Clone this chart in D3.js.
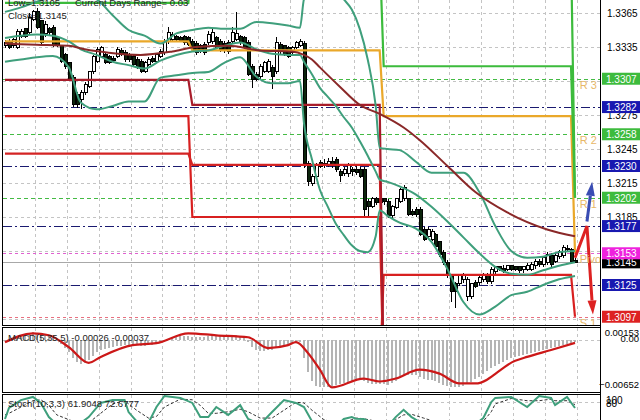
<!DOCTYPE html>
<html><head><meta charset="utf-8">
<script src="https://cdn.jsdelivr.net/npm/d3@7"></script>
<style>body{margin:0;background:#fff;}svg{display:block;font-family:"Liberation Sans",Arial,sans-serif;}</style>
</head><body><svg id="chart" width="640" height="420"></svg>
<script>
// ---------- DATA ----------
const openP=[1.3336,1.3340,1.3336,1.3335,1.3344,1.3351,1.3348,1.3359,1.3366,1.3358,
1.3347,1.3351,1.3352,1.3343,1.3336,1.3328,1.3321,1.3308,1.3293,1.3289,
1.3295,1.3300,1.3313,1.3322,1.3327,1.3328,1.3327,1.3325,1.3327,1.3332,
1.3330,1.3328,1.3327,1.3324,1.3322,1.3313,1.3320,1.3325,1.3322,1.3327,
1.3330,1.3340,1.3342,1.3344,1.3343,1.3344,1.3343,1.3340,1.3338,1.3336,
1.3337,1.3339,1.3340,1.3343,1.3340,1.3338,1.3339,1.3340,1.3342,1.3344,
1.3343,1.3339,1.3318,1.3311,1.3309,1.3313,1.3313,1.3317,1.3313,1.3337,
1.3336,1.3335,1.3330,1.3335,1.3336,1.3338,1.3232,1.3215,1.3221,1.3233,
1.3232,1.3231,1.3234,1.3236,1.3225,1.3223,1.3223,1.3227,1.3227,1.3227,
1.3227,1.3199,1.3194,1.3201,1.3201,1.3201,1.3199,1.3186,1.3193,1.3199,
1.3201,1.3201,1.3190,1.3192,1.3192,1.3174,1.3168,1.3165,1.3170,1.3163,
1.3154,1.3145,1.3133,1.3126,1.3126,1.3130,1.3115,1.3115,1.3127,1.3127,
1.3130,1.3134,1.3128,1.3137,1.3141,1.3140,1.3139,1.3142,1.3141,1.3141,
1.3139,1.3139,1.3139,1.3142,1.3146,1.3143,1.3145,1.3151,1.3146,1.3150,
1.3151,1.3156,1.3156,1.3147];
const highP=[1.3341,1.3342,1.3343,1.3351,1.3351,1.3352,1.3365,1.3368,1.3369,1.3359,
1.3358,1.3353,1.3354,1.3345,1.3337,1.3330,1.3322,1.3310,1.3295,1.3297,
1.3304,1.3314,1.3328,1.3335,1.3336,1.3330,1.3328,1.3327,1.3335,1.3334,
1.3332,1.3330,1.3328,1.3326,1.3324,1.3323,1.3326,1.3327,1.3330,1.3333,
1.3342,1.3353,1.3348,1.3346,1.3345,1.3346,1.3345,1.3342,1.3340,1.3338,
1.3339,1.3349,1.3351,1.3345,1.3342,1.3340,1.3341,1.3353,1.3366,1.3346,
1.3345,1.3341,1.3320,1.3313,1.3320,1.3323,1.3324,1.3319,1.3344,1.3339,
1.3337,1.3336,1.3336,1.3340,1.3342,1.3340,1.3234,1.3223,1.3233,1.3235,
1.3236,1.3237,1.3238,1.3238,1.3227,1.3229,1.3233,1.3229,1.3230,1.3229,
1.3229,1.3201,1.3203,1.3203,1.3203,1.3202,1.3201,1.3196,1.3202,1.3211,
1.3213,1.3202,1.3192,1.3194,1.3194,1.3176,1.3176,1.3174,1.3171,1.3164,
1.3156,1.3147,1.3135,1.3128,1.3135,1.3136,1.3132,1.3127,1.3129,1.3134,
1.3136,1.3136,1.3141,1.3142,1.3142,1.3143,1.3143,1.3143,1.3142,1.3142,
1.3142,1.3144,1.3145,1.3148,1.3148,1.3151,1.3154,1.3153,1.3153,1.3156,
1.3160,1.3160,1.3158,1.3149];
const lowP=[1.3334,1.3333,1.3334,1.3333,1.3343,1.3343,1.3346,1.3358,1.3351,1.3337,
1.3344,1.3345,1.3335,1.3335,1.3321,1.3316,1.3305,1.3282,1.3281,1.3280,
1.3293,1.3299,1.3311,1.3321,1.3325,1.3320,1.3320,1.3321,1.3325,1.3327,
1.3322,1.3322,1.3318,1.3316,1.3312,1.3312,1.3318,1.3321,1.3321,1.3325,
1.3328,1.3338,1.3340,1.3340,1.3339,1.3337,1.3336,1.3331,1.3328,1.3330,
1.3328,1.3337,1.3338,1.3333,1.3331,1.3330,1.3329,1.3338,1.3340,1.3337,
1.3333,1.3309,1.3299,1.3305,1.3307,1.3312,1.3312,1.3298,1.3311,1.3329,
1.3327,1.3325,1.3328,1.3333,1.3335,1.3228,1.3212,1.3212,1.3219,1.3228,
1.3228,1.3229,1.3228,1.3225,1.3216,1.3221,1.3220,1.3221,1.3222,1.3219,
1.3185,1.3185,1.3193,1.3196,1.3196,1.3196,1.3184,1.3184,1.3192,1.3197,
1.3199,1.3186,1.3186,1.3185,1.3168,1.3164,1.3166,1.3164,1.3157,1.3150,
1.3143,1.3131,1.3110,1.3105,1.3124,1.3127,1.3111,1.3113,1.3122,1.3125,
1.3128,1.3126,1.3126,1.3135,1.3137,1.3136,1.3137,1.3137,1.3137,1.3136,
1.3136,1.3137,1.3137,1.3139,1.3141,1.3141,1.3143,1.3141,1.3144,1.3148,
1.3149,1.3155,1.3145,1.3144];
const closeP=[1.3339,1.3335,1.3342,1.3349,1.3349,1.3344,1.3361,1.3366,1.3352,1.3339,
1.3355,1.3348,1.3336,1.3336,1.3322,1.3318,1.3306,1.3284,1.3284,1.3295,
1.3302,1.3313,1.3327,1.3333,1.3335,1.3321,1.3321,1.3323,1.3333,1.3328,
1.3324,1.3324,1.3320,1.3318,1.3313,1.3321,1.3324,1.3322,1.3328,1.3331,
1.3340,1.3348,1.3346,1.3342,1.3341,1.3339,1.3337,1.3333,1.3330,1.3332,
1.3330,1.3346,1.3348,1.3335,1.3333,1.3332,1.3331,1.3348,1.3347,1.3339,
1.3335,1.3311,1.3306,1.3306,1.3318,1.3321,1.3322,1.3309,1.3339,1.3331,
1.3328,1.3327,1.3335,1.3339,1.3340,1.3232,1.3216,1.3221,1.3231,1.3230,
1.3231,1.3234,1.3231,1.3227,1.3222,1.3227,1.3231,1.3225,1.3224,1.3221,
1.3192,1.3194,1.3201,1.3198,1.3198,1.3199,1.3186,1.3194,1.3201,1.3209,
1.3211,1.3187,1.3187,1.3187,1.3170,1.3165,1.3174,1.3172,1.3159,1.3152,
1.3145,1.3133,1.3119,1.3119,1.3133,1.3134,1.3130,1.3126,1.3124,1.3132,
1.3134,1.3128,1.3139,1.3141,1.3139,1.3138,1.3142,1.3139,1.3139,1.3138,
1.3141,1.3142,1.3143,1.3146,1.3143,1.3149,1.3152,1.3143,1.3151,1.3155,
1.3158,1.3157,1.3146,1.3145];

// Bollinger bands & moving average (read at sample bars)
const bbBar=[0,4,8,12,16,19,23,27,31,35,39,43,47,51,55,59,63,67,71,74,75,77,79,81,83,85,87,89,91,93,94,96,99,103,107,111,115,119,123,127,131,135,139,143];
const bbUpper=[1.3366,1.3370,1.3375,1.3379,1.3381,1.3381,1.3377,1.3363,1.3350,1.3345,1.3338,1.3347,1.3350,1.3352,1.3351,1.3351,1.3357,1.3356,1.3354,1.3352,1.3377,1.3386,1.3389,1.3388,1.3385,1.3377,1.3368,1.3351,1.3324,1.3283,1.3246,1.3245,1.3244,1.3234,1.3224,1.3224,1.3224,1.3207,1.3177,1.3155,1.3149,1.3150,1.3154,1.3155];
const bbMid=[1.3343,1.3345,1.3346,1.3345,1.3340,1.3333,1.3328,1.3322,1.3319,1.3316,1.3323,1.3328,1.3331,1.3332,1.3336,1.3339,1.3333,1.3329,1.3328,1.3328,1.3322,1.3311,1.3299,1.3291,1.3283,1.3273,1.3264,1.3252,1.3239,1.3225,1.3218,1.3216,1.3212,1.3205,1.3194,1.3181,1.3167,1.3153,1.3141,1.3135,1.3134,1.3138,1.3142,1.3145];
const bbLower=[1.3322,1.3324,1.3326,1.3327,1.3317,1.3286,1.3280,1.3283,1.3287,1.3287,1.3308,1.3310,1.3312,1.3313,1.3321,1.3326,1.3309,1.3303,1.3303,1.3305,1.3268,1.3236,1.3209,1.3194,1.3179,1.3169,1.3160,1.3155,1.3154,1.3168,1.3191,1.3186,1.3180,1.3175,1.3163,1.3139,1.3110,1.3099,1.3106,1.3116,1.3119,1.3125,1.3130,1.3133];
const maBar=[0,8,16,20,26,34,42,48,56,64,72,75,77,79,84,89,94,100,104,111,118,126,136,143];
const maVal=[1.3338,1.3337,1.3336,1.3333,1.3330,1.3328,1.3331,1.3335,1.3336,1.3332,1.3331,1.3328,1.3324,1.3317,1.3300,1.3284,1.3276,1.3264,1.3253,1.3230,1.3207,1.3189,1.3174,1.3168];

// daily pivot step lines (value per day)
const dayStart=[0,47,95,143];
const pivGreenHi=[1.3374,1.3420,1.3318,1.3202];
const pivGreenTop=[1.3420,1.3420,1.3420,1.3202];
const pivOrange=[1.3340,1.3332,1.3274,1.3153];
const pivDarkRed=[1.3306,1.3284,1.3040,1.3040];
const pivRed1=[1.3274,1.3185,1.3040,1.3040];
const pivRed2=[1.3241,1.3231,1.3040,1.3040];
const pivRed3=[1.3040,1.3040,1.3134,1.3097];

// current levels
const levelPrice=[1.3307,1.3282,1.3258,1.3230,1.3202,1.3177,1.3153,1.3125,1.3097];
const levelKind=["g","b","g","b","g","b","m","b","r"];
const bidPrice=1.3145;
const pivotNames=["R 3","R 2","R 1","Pivot","S 1"];
const pivotNamePrice=[1.3307,1.3258,1.3202,1.3153,1.3097];
const priceTicks=[1.3365,1.3335,1.3305,1.3275,1.3245,1.3215,1.3185,1.3155,1.3125,1.3095];

// arrows
const upArrowBar=[146,147.3], upArrowPrice=[1.3181,1.3216];
const dnArrowBar=[143,146,147.5], dnArrowPrice=[1.3149,1.3177,1.3099];

// MACD
const macdHist=[-0.00013,0,0.00013,0.0004,0.00054,0.00067,0.00094,0.00107,0.00094,0.00067,
0.00067,0.00054,0.00027,0,-0.00054,-0.00107,-0.00161,-0.00241,-0.00295,-0.00322,
-0.00308,-0.00268,-0.00214,-0.00161,-0.00134,-0.00121,-0.00107,-0.00094,-0.0008,-0.0008,
-0.00067,-0.00067,-0.00067,-0.00067,-0.0008,-0.0008,-0.00067,-0.00067,-0.00054,-0.0004,
-0.00013,0.00013,0.0004,0.00054,0.00054,0.00054,0.00054,0.0004,0.0004,0.0004,
0.0004,0.00054,0.00067,0.00054,0.00054,0.0004,0.00054,0.00067,0.00067,0.00054,
0.0004,-0.00027,-0.00094,-0.00134,-0.00147,-0.00147,-0.00134,-0.00134,-0.00107,-0.0008,
-0.00067,-0.00054,-0.0004,-0.00027,-0.00027,-0.00241,-0.00429,-0.00563,-0.0063,-0.00643,
-0.00643,-0.00643,-0.0063,-0.00616,-0.00603,-0.0059,-0.00576,-0.00563,-0.00549,-0.00536,
-0.00563,-0.0059,-0.00603,-0.00603,-0.00603,-0.00603,-0.00616,-0.0059,-0.00563,-0.00509,
-0.00469,-0.00469,-0.00469,-0.00469,-0.00496,-0.00536,-0.00549,-0.00549,-0.00563,-0.0059,
-0.00616,-0.0063,-0.00643,-0.00643,-0.00643,-0.0063,-0.00603,-0.00576,-0.00536,-0.00496,
-0.00456,-0.00415,-0.00375,-0.00348,-0.00322,-0.00295,-0.00268,-0.00241,-0.00228,-0.00214,
-0.00201,-0.00188,-0.00174,-0.00161,-0.00147,-0.00134,-0.00121,-0.00107,-0.00094,-0.0008,
-0.00067,-0.00054,-0.0004,-0.00026];
const macdSigBar=[0,7,11,16,21,24,32,38,46,53,61,66,71,73,76,79,82,90,94,98,104,109,114,118,128,131,137,143];
const macdSig=[-0.00027,0.00094,0.00067,-0.00094,-0.00308,-0.00228,-0.00067,-0.0004,0.00094,0.00067,0.0004,-0.00107,-0.00067,-0.00027,-0.00174,-0.00402,-0.00643,-0.00523,-0.00563,-0.00523,-0.00402,-0.00456,-0.0059,-0.0059,-0.00281,-0.00228,-0.00134,-0.00037];
const macdTicks=[0.00153,0,-0.00652];

// Stochastic
const stoBar=[0,1,4,7,9,11,13,18,21,24,27,30,31,33,36,38,40,44,47,49,51,53,56,59,61,64,67,70,73,75,77,80,84,85,87,88,90,93,97,98,100,102,105,110,115,119,120,122,123,127,131,134,137,138,141,143];
const stoMain=[27,62,87,97,78,33,10,5,33,78,87,87,49,20,15,65,100,94,78,33,33,65,40,71,27,10,49,87,78,65,20,5,15,27,33,28,27,10,18,33,56,33,10,3,8,20,30,81,94,97,65,100,94,71,97,61.9];
const stoSig=[40,45,65,85,88,70,40,15,15,45,75,85,75,55,30,35,65,90,88,70,45,45,50,58,50,30,30,55,80,78,55,25,12,18,25,30,28,20,15,25,40,42,30,10,5,12,20,50,75,92,85,85,90,85,85,72.68];
const stoTicks=[100,80];

// ---------- DRAW ----------
const svg=d3.select("#chart");
const FONT='"Liberation Sans",Arial,sans-serif';
const x=d3.scaleLinear().domain([0,143]).range([5,575]);
const y=d3.scaleLinear().domain([1.3365,1.3125]).range([13,285]);
const yM=d3.scaleLinear().domain([-0.00652,0.00153]).range([388,329]);
const yS=d3.scaleLinear().domain([0,100]).range([427.5,396]);
const defs=svg.append("defs");
function clip(id,x0,y0,w,h){defs.append("clipPath").attr("id",id).append("rect").attr("x",x0).attr("y",y0).attr("width",w).attr("height",h);}
clip("cMain",3,0,597,325);clip("cMacd",3,328,597,64);clip("cSto",3,395,597,30);
svg.append("rect").attr("width",640).attr("height",420).attr("fill","#fff");

const px=v=>Math.round(v)+0.5;
const gridStyle=s=>s.attr("stroke","#c4c4c4").attr("stroke-dasharray","3,3").attr("stroke-width",1);
const gridBars=d3.range(7.5,144,8);
[[0,325],[328,392],[395,420]].forEach(([a,b])=>{
  svg.append("g").selectAll("line").data(gridBars).join("line")
   .attr("x1",d=>px(x(d))).attr("x2",d=>px(x(d))).attr("y1",a).attr("y2",b).call(gridStyle);
});
svg.append("g").selectAll("line").data(priceTicks).join("line")
 .attr("x1",3).attr("x2",600).attr("y1",d=>px(y(d))).attr("y2",d=>px(y(d))).call(gridStyle);
svg.append("line").attr("x1",3).attr("x2",600).attr("y1",px(yM(0))).attr("y2",px(yM(0))).call(gridStyle);
svg.append("line").attr("x1",3).attr("x2",600).attr("y1",px(yS(80))).attr("y2",px(yS(80))).call(gridStyle);

const main=svg.append("g").attr("clip-path","url(#cMain)");
const lvlStyle={g:["#44bb44","4,3"],b:["#1a1a70","9,3,2,3"],m:["#e060d0","3,3"],r:["#e87080","3,3"]};
main.selectAll("line.lvl").data(levelPrice).join("line").attr("class","lvl")
 .attr("x1",3).attr("x2",600).attr("y1",d=>px(y(d))).attr("y2",d=>px(y(d)))
 .attr("stroke",(d,i)=>lvlStyle[levelKind[i]][0]).attr("stroke-dasharray",(d,i)=>lvlStyle[levelKind[i]][1]).attr("stroke-width",1.2);
main.append("line").attr("x1",3).attr("x2",600).attr("y1",px(y(bidPrice))).attr("y2",px(y(bidPrice))).attr("stroke","#a8a8a8");

// candles
const bars=d3.range(openP.length);
const cg=main.append("g").attr("shape-rendering","crispEdges");
cg.selectAll("line").data(bars).join("line")
 .attr("x1",i=>px(x(i))).attr("x2",i=>px(x(i))).attr("y1",i=>y(highP[i])).attr("y2",i=>y(lowP[i])).attr("stroke","#000");
cg.selectAll("rect").data(bars).join("rect")
 .attr("x",i=>Math.round(x(i))-1).attr("width",3)
 .attr("y",i=>Math.min(y(openP[i]),y(closeP[i])))
 .attr("height",i=>Math.max(1,Math.abs(y(openP[i])-y(closeP[i]))))
 .attr("fill",i=>closeP[i]>=openP[i]?"#fff":"#0c240c").attr("stroke","#000");

// pivot step lines
function dayOf(i){let d=0;dayStart.forEach((s,k)=>{if(i>=s)d=k;});return d;}
const stepLine=vals=>d3.line().x(i=>x(i)).y(i=>y(vals[dayOf(i)]))(bars);
[[pivRed3,"#d82020"],[pivRed1,"#d82020"],[pivRed2,"#d42424"],[pivDarkRed,"#a81c2a"],
 [pivOrange,"#eaa82a"],[pivGreenTop,"#3cbb3c"],[pivGreenHi,"#3cbb3c"]].forEach(([v,c])=>{
  main.append("path").attr("d",stepLine(v)).attr("fill","none").attr("stroke",c).attr("stroke-width",2.2);
});

// bollinger + MA
const curve=(bs,vs)=>d3.line().curve(d3.curveMonotoneX).x((d,i)=>x(bs[i])).y(d=>y(d))(vs);
[bbUpper,bbMid,bbLower].forEach(v=>main.append("path").attr("d",curve(bbBar,v)).attr("fill","none").attr("stroke","#3f9f7c").attr("stroke-width",2));
main.append("path").attr("d",curve(maBar,maVal)).attr("fill","none").attr("stroke","#8a2828").attr("stroke-width",2);

// arrows
function arrow(bs,ps,color,w){
  const pts=bs.map((b,i)=>[x(b),y(ps[i])]);
  const n=pts.length,[x1,y1]=pts[n-2],[x2,y2]=pts[n-1];
  const L=Math.hypot(x2-x1,y2-y1),ux=(x2-x1)/L,uy=(y2-y1)/L,hl=14,hw=4.5;
  const bx=x2-ux*hl,by=y2-uy*hl;
  const shaft=pts.slice(0,n-1).concat([[bx,by]]);
  main.append("path").attr("d",d3.line()(shaft)).attr("fill","none").attr("stroke",color).attr("stroke-width",w).attr("stroke-linejoin","miter");
  main.append("path").attr("d",d3.line()([[x2,y2],[bx-uy*hw,by+ux*hw],[bx+uy*hw,by-ux*hw]])+"Z").attr("fill",color);
}
arrow(upArrowBar,upArrowPrice,"#3a4db4",3);
arrow(dnArrowBar,dnArrowPrice,"#dd2222",3);

// pivot names
main.selectAll("text.pn").data(pivotNames).join("text").attr("class","pn")
 .attr("x",x(144.2)).attr("y",(d,i)=>y(pivotNamePrice[i])+10).text(d=>d)
 .attr("fill","#e8b868").attr("font-size",11).attr("font-family",FONT);

// MACD panel
const mg=svg.append("g").attr("clip-path","url(#cMacd)");
mg.append("g").attr("shape-rendering","crispEdges").selectAll("rect").data(bars).join("rect")
 .attr("x",i=>Math.round(x(i))-1).attr("width",2)
 .attr("y",i=>yM(Math.max(0,macdHist[i]))).attr("height",i=>Math.abs(yM(macdHist[i])-yM(0)))
 .attr("fill","#b4b4b4");
mg.append("path").attr("d",d3.line().curve(d3.curveMonotoneX).x((d,i)=>x(macdSigBar[i])).y(d=>yM(d))(macdSig))
 .attr("fill","none").attr("stroke","#cc1818").attr("stroke-width",2.2);

// Stoch panel
const sg=svg.append("g").attr("clip-path","url(#cSto)");
const sline=vs=>d3.line().x((d,i)=>x(stoBar[i])).y(d=>yS(d))(vs);
sg.append("path").attr("d",sline(stoSig)).attr("fill","none").attr("stroke","#333").attr("stroke-dasharray","3,2").attr("stroke-width",1);
sg.append("path").attr("d",sline(stoMain)).attr("fill","none").attr("stroke","#3f9f7c").attr("stroke-width",2);

// panel frames
svg.append("g").attr("fill","none").attr("stroke","#000").attr("shape-rendering","crispEdges")
 .selectAll("rect").data([[2,-2,598,327],[2,327,598,65],[2,394,598,40]]).join("rect")
 .attr("x",d=>d[0]).attr("y",d=>d[1]).attr("width",d=>d[2]).attr("height",d=>d[3]);

// right axis (labels hidden behind a level box are not drawn)
const allLevels=levelPrice.concat([bidPrice]);
const visTicks=priceTicks.filter(t=>d3.min(allLevels,l=>Math.abs(y(l)-y(t)))>5);
const ax=svg.append("g").attr("transform","translate(600,0)")
 .call(d3.axisRight(y).tickValues(visTicks).tickSize(0).tickPadding(7).tickFormat(d3.format(".4f")));
ax.select(".domain").remove();
ax.selectAll("text").attr("font-size",10).attr("font-family",FONT).attr("fill","#000");
svg.append("g").selectAll("text").data(macdTicks).join("text")
 .attr("x",639).attr("text-anchor","end").attr("y",(d,i)=>yM(d)+[7,2,0][i]).text(d=>d===0?"0.00":d3.format(".5f")(d))
 .attr("font-size",9.5).attr("font-family",FONT);
svg.append("g").selectAll("text").data(stoTicks).join("text")
 .attr("x",606).attr("y",(d,i)=>yS(d)+[8,5][i]).text(d=>d)
 .attr("font-size",10).attr("font-family",FONT);

// price label boxes (bid first, the level boxes drawn over it)
const boxCol={g:"#3dbb3d",b:"#1818b0",m:"#ee22dd",r:"#dd2222"};
const boxes=[{p:bidPrice,c:"#000"}].concat(levelPrice.map((p,i)=>({p,c:boxCol[levelKind[i]]})));
const bg=svg.append("g");
boxes.forEach(b=>{
  bg.append("rect").attr("x",602).attr("y",y(b.p)-6).attr("width",38).attr("height",12).attr("fill",b.c);
  bg.append("text").attr("x",606).attr("y",y(b.p)+4).text(b.p.toFixed(4)).attr("fill","#fff").attr("font-size",10).attr("font-family",FONT);
});
svg.append("line").attr("x1",600.5).attr("x2",600.5).attr("y1",0).attr("y2",420).attr("stroke","#000");

// texts
const tt=(t,xx,yy)=>svg.append("text").attr("x",xx).attr("y",yy).text(t).attr("font-size",9.5).attr("font-family",FONT).attr("fill","#222");
tt("Low=1.3105",8,6);tt("Current Days Range= 0.03",75,6);tt("Close=1.3145",8,19);
tt("MACD(5,35,5) -0.00026 -0.00037",8,341);
tt("Stoch(10,3,3) 61.9048 72.6777",8,407);
</script></body></html>
